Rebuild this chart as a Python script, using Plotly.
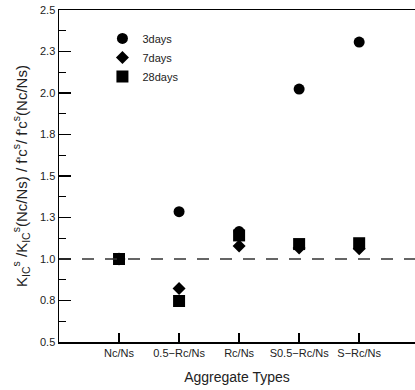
import plotly.graph_objects as go

categories = ["Nc/Ns", "0.5\u2212Rc/Ns", "Rc/Ns", "S0.5\u2212Rc/Ns", "S\u2212Rc/Ns"]
days3 = [1.0, 1.285, 1.165, 2.024, 2.307]
days7 = [1.0, 0.823, 1.078, 1.066, 1.062]
days28 = [1.0, 0.747, 1.142, 1.09, 1.095]
ytick_vals = [0.5, 0.75, 1.0, 1.25, 1.5, 1.75, 2.0, 2.25, 2.5]
ytick_text = ["0.5", "0.8", "1.0", "1.3", "1.5", "1.8", "2.0", "2.3", "2.5"]

xpos = list(range(len(categories)))
font = "Liberation Sans, Arial, sans-serif"

fig = go.Figure()
fig.add_trace(go.Scatter(x=xpos, y=days3, mode="markers", name="3days",
                         marker=dict(symbol="circle", size=11, color="black")))
fig.add_trace(go.Scatter(x=xpos, y=days7, mode="markers", name="7days",
                         marker=dict(symbol="diamond", size=10, color="black")))
fig.add_trace(go.Scatter(x=xpos, y=days28, mode="markers", name="28days",
                         marker=dict(symbol="square", size=12, color="black")))

fig.add_hline(y=1.0, line=dict(color="#333333", width=1.5, dash="12px,11px"))

fig.update_layout(
    width=415, height=390,
    margin=dict(l=59, r=0, t=10, b=48),
    paper_bgcolor="white", plot_bgcolor="white",
    font=dict(family=font, color="#222222", size=11),
    showlegend=True,
    hovermode=False,
    legend=dict(x=0.122, y=0.958, xanchor="left", yanchor="top", bgcolor="rgba(0,0,0,0)",
                font=dict(size=11), tracegroupgap=0),
    xaxis=dict(
        range=[-1, 4.93], tickvals=xpos, ticktext=categories,
        showline=True, linecolor="black", linewidth=1.5, mirror=True,
        ticks="inside", ticklen=9, tickcolor="black", tickwidth=1.5,
        showgrid=False, zeroline=False, showspikes=False,
        title=dict(text="Aggregate Types", font=dict(size=14), standoff=14),
    ),
    yaxis=dict(
        range=[0.5, 2.5], tickvals=ytick_vals, ticktext=ytick_text,
        showline=True, linecolor="black", linewidth=1.5, mirror=False,
        ticks="inside", ticklen=12, tickcolor="black", tickwidth=1.5,
        ticklabeloverflow="allow", showspikes=False,
        minor=dict(dtick=0.125, tick0=0.5, ticks="inside", ticklen=7, tickcolor="black", tickwidth=1.2),
        showgrid=False, zeroline=False,
        title=dict(text="K<sub>IC</sub><sup>s</sup> /K<sub>IC</sub><sup>s</sup>(Nc/Ns) / f'c<sup>s</sup>/ f'c<sup>s</sup>(Nc/Ns)",
                   font=dict(size=15), standoff=9),
    ),
)

fig.write_html("out.html", config={"displayModeBar": False, "staticPlot": True},
               post_script="document.documentElement.style.overflow='hidden';document.body.style.margin='0';document.body.style.overflow='hidden';")
